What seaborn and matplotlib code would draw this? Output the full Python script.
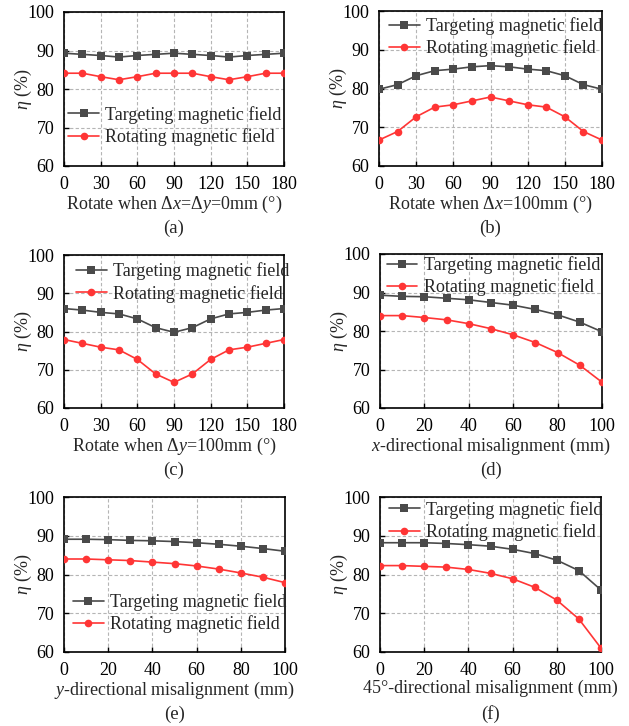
import matplotlib
matplotlib.use("Agg")
import matplotlib.pyplot as plt
import numpy as np
import pandas as pd
import seaborn as sns

# ---------------- data ----------------
rot_angles = [0, 15, 30, 45, 60, 75, 90, 105, 120, 135, 150, 165, 180]
misalign = [0, 10, 20, 30, 40, 50, 60, 70, 80, 90, 100]

a_target = [89.3, 89.0, 88.7, 88.3, 88.7, 89.0, 89.3, 89.0, 88.7, 88.3, 88.7, 89.0, 89.3]
a_rotate = [84.1, 84.1, 83.2, 82.4, 83.2, 84.1, 84.1, 84.1, 83.2, 82.4, 83.2, 84.1, 84.1]

b_target = [79.8, 81.0, 83.3, 84.6, 85.0, 85.6, 85.9, 85.6, 85.0, 84.6, 83.3, 81.0, 79.8]
b_rotate = [66.7, 68.9, 72.7, 75.2, 75.8, 76.8, 77.8, 76.8, 75.8, 75.2, 72.7, 68.9, 66.7]

c_target = [86.0, 85.6, 85.0, 84.6, 83.3, 81.0, 79.8, 81.0, 83.3, 84.6, 85.0, 85.6, 86.0]
c_rotate = [77.9, 76.9, 75.9, 75.2, 72.7, 68.9, 66.7, 68.9, 72.7, 75.2, 75.9, 76.9, 77.9]

d_target = [89.3, 89.0, 88.9, 88.5, 88.1, 87.4, 86.7, 85.6, 84.2, 82.3, 79.8]
d_rotate = [84.0, 84.0, 83.5, 82.9, 81.9, 80.6, 79.0, 77.0, 74.4, 71.1, 66.7]

e_target = [89.1, 89.1, 89.0, 88.8, 88.7, 88.5, 88.2, 87.8, 87.3, 86.7, 86.0]
e_rotate = [84.0, 84.0, 83.8, 83.6, 83.2, 82.8, 82.2, 81.4, 80.4, 79.3, 77.9]

f_target = [88.2, 88.2, 88.2, 88.0, 87.7, 87.3, 86.5, 85.4, 83.7, 81.0, 76.0]
f_rotate = [82.3, 82.3, 82.1, 81.9, 81.3, 80.3, 78.9, 76.7, 73.4, 68.5, 61.0]

series_names = ["Targeting magnetic field", "Rotating magnetic field"]
xlabels = [
    "Rotate when \u0394$x$=\u0394$y$=0mm (\u00b0)",
    "Rotate when \u0394$x$=100mm (\u00b0)",
    "Rotate when \u0394$y$=100mm (\u00b0)",
    "$x$-directional misalignment (mm)",
    "$y$-directional misalignment (mm)",
    "45\u00b0-directional misalignment (mm)",
]
captions = ["(a)", "(b)", "(c)", "(d)", "(e)", "(f)"]
rot_ticks = [0, 30, 60, 90, 120, 150, 180]
mis_ticks = [0, 20, 40, 60, 80, 100]
y_ticks = [60, 70, 80, 90, 100]

# ---------------- style ----------------
sns.set_theme(style="ticks")
plt.rcParams["font.family"] = ["Liberation Serif", "DejaVu Serif"]
plt.rcParams["mathtext.fontset"] = "custom"
plt.rcParams["mathtext.rm"] = "Liberation Serif"
plt.rcParams["mathtext.it"] = "Liberation Serif:italic"
plt.rcParams["mathtext.bf"] = "Liberation Serif:bold"

W, H = 629, 726
fig = plt.figure(figsize=(W / 100, H / 100), dpi=100)

# axes boxes in pixels: left, top, right, bottom
boxes = [
    (64, 12, 284, 166),
    (379, 11, 602, 166),
    (64, 255, 284, 408),
    (380, 254, 602, 408),
    (64, 497, 285, 652),
    (380, 497, 601, 652),
]
legend_pos = [(0.02, 0.26), (0.045, 0.83), (0.054, 0.82), (0.03, 0.855), (0.04, 0.25), (0.04, 0.845)]
panels = [
    (rot_angles, a_target, a_rotate, rot_ticks),
    (rot_angles, b_target, b_rotate, rot_ticks),
    (rot_angles, c_target, c_rotate, rot_ticks),
    (misalign, d_target, d_rotate, mis_ticks),
    (misalign, e_target, e_rotate, mis_ticks),
    (misalign, f_target, f_rotate, mis_ticks),
]
palette = {series_names[0]: "#4a4a4a", series_names[1]: "#ff3535"}
markers = {series_names[0]: "s", series_names[1]: "o"}

FS = 13
for i, ((xs, t, r, xt), box) in enumerate(zip(panels, boxes)):
    l, tp, rt, bt = box
    ax = fig.add_axes([l / W, 1 - bt / H, (rt - l) / W, (bt - tp) / H])
    df = pd.DataFrame({
        "x": list(xs) * 2,
        "eta": list(t) + list(r),
        "series": [series_names[0]] * len(xs) + [series_names[1]] * len(xs),
    })
    sns.lineplot(data=df, x="x", y="eta", hue="series", style="series",
                 palette=palette, markers=markers, dashes=False,
                 markersize=5.5, linewidth=1.2, markeredgewidth=0,
                 ax=ax, zorder=3)
    ax.set_xlim(xt[0], xt[-1])
    ax.set_ylim(60, 100)
    ax.set_xticks(xt)
    ax.set_yticks(y_ticks)
    ax.grid(True, linestyle=(0, (3, 2)), color="#b5b5b5", linewidth=0.8)
    ax.set_axisbelow(True)
    for s in ax.spines.values():
        s.set_color("black")
        s.set_linewidth(1.2)
    ax.tick_params(direction="in", length=3.5, width=1, labelsize=FS, pad=7, colors="black")
    ax.set_xlabel(xlabels[i], fontsize=FS, labelpad=1)
    ax.set_ylabel(r"$\eta$ (%)", fontsize=FS, labelpad=-5)
    leg = ax.legend(loc="center left", bbox_to_anchor=legend_pos[i], frameon=False,
                    fontsize=FS, borderpad=0, borderaxespad=0, labelspacing=0.25,
                    handlelength=1.7, handletextpad=0.35)
    for h in leg.legend_handles:
        h.set_markersize(5.5)
    # caption
    cx = (l + rt) / 2
    cy = bt + 62
    fig.text(cx / W, 1 - cy / H, captions[i], ha="center", va="center", fontsize=FS + 0.5)

fig.savefig("out.png", dpi=100)
